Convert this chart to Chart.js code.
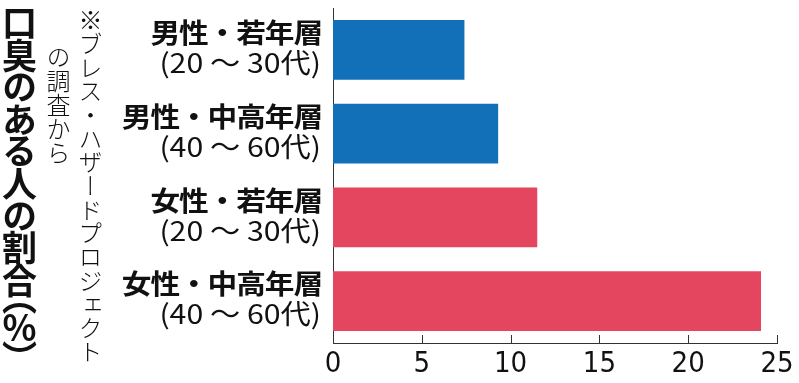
<!DOCTYPE html>
<html><head><meta charset="utf-8">
<script src="https://cdn.jsdelivr.net/npm/chart.js@4/dist/chart.umd.min.js"></script>
<style>
html,body{margin:0;padding:0;background:#fff;}
#wrap{position:relative;width:799px;height:383px;}
canvas{position:absolute;left:0;top:0;}
.vt{position:absolute;writing-mode:vertical-rl;font-family:"Noto Sans CJK JP";line-height:1;white-space:nowrap;color:#111;}
#title{left:2px;top:5px;font-size:35px;font-weight:700;letter-spacing:-2px;font-feature-settings:"vpal";}
#note1{left:78px;top:8px;font-size:24px;font-weight:300;letter-spacing:-0.3px;}
#note2{left:46px;top:45px;font-size:24px;font-weight:300;}
</style></head>
<body><div id="wrap">
<canvas id="c" width="799" height="383"></canvas>
<div class="vt" id="title">口臭のある人の割合（％）</div>
<div class="vt" id="note1">※ブレス・ハザードプロジェクト</div>
<div class="vt" id="note2">の調査から</div>
</div>
<script>
const groupLabels = ['男性・若年層','男性・中高年層','女性・若年層','女性・中高年層'];
const ageLabels = ['(20 ～ 30代)','(40 ～ 60代)','(20 ～ 30代)','(40 ～ 60代)'];
const values = [7.4, 9.3, 11.5, 24.1];
const barColors = ['#1270b9','#1270b9','#e4465f','#e4465f'];
const xTicks = [0,5,10,15,20,25];

const labelPlugin = {
  id:'labels',
  afterDraw(chart){
    const ctx = chart.ctx, ys = chart.scales.y, xs = chart.scales.x;
    ctx.save();
    ctx.fillStyle = '#111';
    ctx.textAlign = 'right';
    ctx.textBaseline = 'middle';
    groupLabels.forEach((l,i)=>{
      const y = ys.getPixelForValue(i);
      ctx.save();
      ctx.translate(322, y);
      ctx.scale(1.1, 1);
      ctx.font = '700 27px "Noto Sans CJK JP"';
      ctx.letterSpacing = '-1px';
      ctx.fillText(l, 0, -17);
      ctx.restore();
      ctx.save();
      ctx.translate(321, y);
      ctx.scale(1.12, 1);
      ctx.font = '400 27px "Noto Sans CJK JP"';
      ctx.letterSpacing = '0px';
      ctx.fillText(ageLabels[i], 0, 13);
      ctx.restore();
    });
    // inward tick marks
    ctx.strokeStyle = '#333';
    ctx.lineWidth = 1;
    const b = chart.chartArea.bottom;
    xs.ticks.forEach((t,i)=>{
      if (i===0) return;
      const x = Math.round(xs.getPixelForTick(i))+0.5;
      ctx.beginPath(); ctx.moveTo(x,b); ctx.lineTo(x,b-8); ctx.stroke();
    });
    ctx.restore();
  }
};

new Chart(document.getElementById('c'),{
  type:'bar',
  data:{labels:groupLabels,datasets:[{data:values,backgroundColor:barColors,borderWidth:0,categoryPercentage:1,barPercentage:0.714}]},
  options:{
    indexAxis:'y',responsive:false,animation:false,
    layout:{padding:{left:333,right:22,top:8,bottom:0}},
    plugins:{legend:{display:false},tooltip:{enabled:false}},
    scales:{
      x:{min:0,max:25,afterBuildTicks:s=>{s.ticks=xTicks.map(v=>({value:v}));},
        grid:{display:false,drawTicks:false},
        border:{display:true,color:'#333',width:1},
        ticks:{padding:4,color:'#111',font:{family:'"Liberation Sans Narrow","DejaVu Sans Condensed"',size:29}},
        afterFit:s=>{s.height=40;}},
      y:{grid:{display:false,drawTicks:false},border:{display:true,color:'#333',width:1},
        ticks:{display:false},afterFit:s=>{s.width=0;}}
    }
  },
  plugins:[labelPlugin]
});
</script>
</body></html>
